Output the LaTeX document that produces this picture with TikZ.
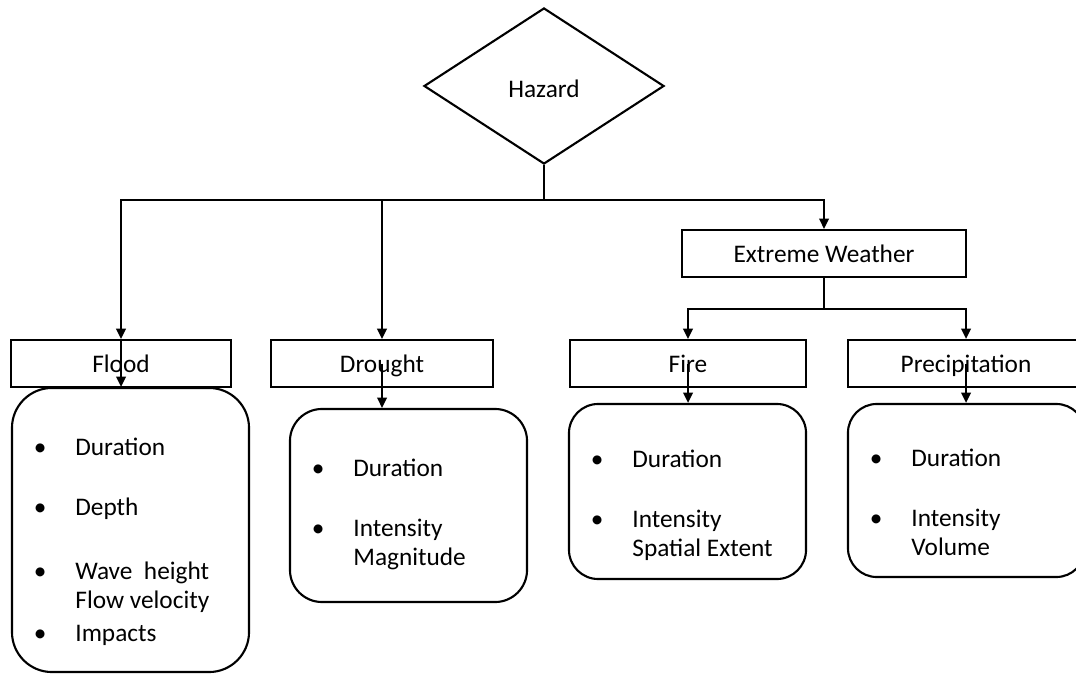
\documentclass[tikz,border=0pt]{standalone}
\usepackage{fontspec}
\setmainfont{Carlito}
\usepackage{tikz}
\usetikzlibrary{arrows.meta,shapes.geometric}
\tikzset{
  box/.style={
    draw, line width=1.5pt, inner sep=0pt, minimum height=1.175cm,
    text height=12.5pt, text depth=0pt,
    font=\fontsize{18}{20.5}\selectfont
  },
  decision/.style={box,diamond,minimum width=6cm,minimum height=3.9cm,text height=17pt},
  detail/.style={box,text height=,text depth=,align=flush left,inner xsep=0.55cm,text width=4.825cm},
  arr/.style={-{Triangle[length=2.6mm,width=2.4mm]},line width=1.5pt},
  link/.style={line width=1.5pt}
}

\begin{document}
\begin{tikzpicture}[x=0.025cm,y=-0.025cm]
  \useasboundingbox (0,0) rectangle (1076,675);
  \node[decision] (hazard) at (544,86) {Hazard};
  \coordinate (split) at (544,200);
  \node[box,minimum width=7.1cm] (extreme) at (824,253.5) {Extreme Weather};
  \coordinate (branch) at (824,309);
  \node[box,minimum width=5.5cm] (flood) at (121,363.5) {Flood};
  \node[box,minimum width=5.55cm] (drought) at (382,363.5) {Drought};
  \node[box,minimum width=5.9cm] (fire) at (688,363.5) {Fire};
  \node[box,minimum width=5.9cm] (precip) at (966,363.5) {Precipitation};
  \node[detail,minimum height=7.1cm,rounded corners=1cm] (floodList) at (130.5,530) {%
    \begin{tabular}{@{}l@{\hspace{0.72cm}}l@{}}\noalign{\vskip0.65cm}
      \textbullet & Duration\\[0.78cm]
      \textbullet & Depth\\[0.88cm]
      \textbullet & Wave~~height\\
                  & Flow velocity\\[1mm]
      \textbullet & Impacts
    \end{tabular}};
  \node[detail,minimum height=4.825cm,rounded corners=0.8cm] (droughtList) at (408.5,505.5) {%
    \begin{tabular}{@{}l@{\hspace{0.72cm}}l@{}}\noalign{\vskip0.48cm}
      \textbullet & Duration\\[0.8cm]
      \textbullet & Intensity\\
                  & Magnitude
    \end{tabular}};
  \node[detail,minimum height=4.375cm,rounded corners=0.73cm] (fireList) at (687.5,491.5) {%
    \begin{tabular}{@{}l@{\hspace{0.72cm}}l@{}}\noalign{\vskip0.72cm}
      \textbullet & Duration\\[0.78cm]
      \textbullet & Intensity\\
                  & Spatial Extent
    \end{tabular}};
  \node[detail,minimum height=4.325cm,rounded corners=0.72cm] (precipList) at (966.5,490.5) {%
    \begin{tabular}{@{}l@{\hspace{0.72cm}}l@{}}\noalign{\vskip0.75cm}
      \textbullet & Duration\\[0.78cm]
      \textbullet & Intensity\\
                  & Volume
    \end{tabular}};
  % hazard to its branches
  \draw[link] (hazard.south) -- (split);
  \draw[arr] (split) -| (flood.north);
  \draw[arr] (split) -| (drought.north);
  \draw[arr] (split) -| (extreme.north);
  \draw[link] (extreme.south) -- (branch);
  \draw[arr] (branch) -| (fire.north);
  \draw[arr] (branch) -| (precip.north);
  % down to the lists
  \draw[arr] (flood.north) -- (flood |- floodList.north);
  \draw[arr] (drought.center) -- (drought |- droughtList.north);
  \draw[arr] (fire.center) -- (fire |- fireList.north);
  \draw[arr] (precip.center) -- (precip |- precipList.north);
\end{tikzpicture}
\end{document}
